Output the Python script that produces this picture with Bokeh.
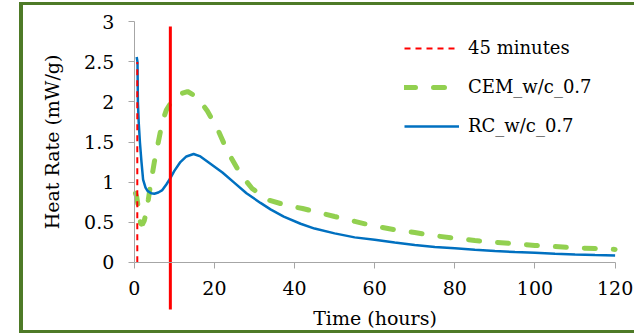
from bokeh.plotting import figure
from bokeh.models import Range1d, FixedTicker, Legend, LegendItem
from bokeh.embed import file_html
from bokeh.resources import INLINE

# ---- data ----
time_rc = [0.6, 0.8, 0.9, 1.1, 1.4, 1.8, 2.2, 2.8, 3.3, 4.2, 5.0, 6.0, 7.0, 8.0, 9.0,
           10.0, 11.5, 13.0, 14.8, 16.5, 19.0, 22.0, 25.0, 28.0, 31.5, 34.0, 37.3,
           41.5, 45.0, 50.0, 55.0, 60.0, 65.0, 70.0, 75.0, 80.0, 85.0, 90.0, 95.0,
           100.0, 105.0, 110.0, 115.0, 120.0]
rate_rc = [2.56, 2.5, 2.0, 1.75, 1.5, 1.25, 1.03, 0.93, 0.89, 0.86, 0.855, 0.87, 0.9,
           0.97, 1.05, 1.14, 1.25, 1.32, 1.35, 1.32, 1.23, 1.12, 0.99, 0.86, 0.74,
           0.66, 0.57, 0.48, 0.42, 0.36, 0.31, 0.28, 0.245, 0.215, 0.19, 0.173,
           0.155, 0.14, 0.127, 0.117, 0.105, 0.097, 0.09, 0.084]

time_cem = [0.3, 0.6, 0.9, 1.2, 1.6, 2.0, 2.5, 3.0, 3.5, 4.0, 4.5, 5.0, 6.0, 7.0, 8.0,
            9.5, 11.5, 13.3, 15.7, 18.2, 20.7, 23.2, 26.5, 29.4, 33.2, 38.0, 42.0,
            46.0, 50.0, 55.0, 60.0, 65.0, 70.0, 75.0, 80.0, 85.0, 90.0, 95.0, 100.0,
            105.0, 110.0, 115.0, 120.0]
rate_cem = [0.86, 0.82, 0.72, 0.58, 0.48, 0.47, 0.52, 0.63, 0.78, 0.95, 1.1, 1.25,
            1.5, 1.75, 1.9, 2.02, 2.1, 2.13, 2.06, 1.89, 1.67, 1.39, 1.1, 0.92, 0.78,
            0.71, 0.67, 0.62, 0.57, 0.51, 0.45, 0.405, 0.37, 0.33, 0.3, 0.27, 0.25,
            0.23, 0.21, 0.195, 0.18, 0.17, 0.16]

marker_45_time = [0.75, 0.75]
marker_45_rate = [0.0, 2.5]
marker_9h_time = [9.0, 9.0]
marker_9h_rate = [-0.59, 2.94]

x_ticks = [0, 20, 40, 60, 80, 100, 120]
y_ticks = [0, 0.5, 1, 1.5, 2, 2.5, 3]
y_tick_labels = ["0", "0.5", "1", "1.5", "2", "2.5", "3"]

legend_labels = ["45 minutes", "CEM_w/c_0.7", "RC_w/c_0.7"]
x_title = "Time (hours)"
y_title = "Heat Rate (mW/g)"

FONT = "DejaVu Serif"
AXIS_GREY = "#A6A6A6"
FRAME_GREEN = "#4E7A27"

# The plot frame covers the whole canvas; the axes sit at x=0 and y=0 inside it.
p = figure(width=634, height=334, output_backend="svg", toolbar_location=None,
           x_range=Range1d(-33.39, 124.84), y_range=Range1d(-0.902, 3.266),
           min_border=0)
# green box around the chart
p.styles = {"box-shadow": (
    "inset 19px 0 0 0 white, inset 0 2px 0 0 white, inset 0 -1px 0 0 white, "
    f"inset 23px 0 0 0 {FRAME_GREEN}, inset 0 5px 0 0 {FRAME_GREEN}, "
    f"inset 0 -4px 0 0 {FRAME_GREEN}")}
p.xgrid.visible = False
p.ygrid.visible = False
p.outline_line_color = None
p.background_fill_color = None
p.border_fill_color = None

r_cem = p.line(time_cem, rate_cem, line_color="#92D050", line_width=5,
               line_dash="11 18", line_cap="round")
r_rc = p.line(time_rc, rate_rc, line_color="#0070C0", line_width=2.5)
p.line(marker_9h_time, marker_9h_rate, line_color="#FF0000", line_width=3)
r_45 = p.line(marker_45_time, marker_45_rate, line_color="#FF0000", line_width=2,
              line_dash="6 5")

# x axis
xa = p.xaxis[0]
xa.fixed_location = 0
xa.bounds = (0, 120)
xa.ticker = FixedTicker(ticks=x_ticks)
xa.axis_label = x_title
xa.axis_line_color = AXIS_GREY
xa.major_tick_line_color = AXIS_GREY
xa.major_tick_in = 0
xa.major_tick_out = 6
xa.minor_tick_line_color = None
xa.major_label_standoff = 13
xa.axis_label_standoff = 8
xa.major_label_text_font = FONT
xa.major_label_text_font_size = "19px"
xa.major_label_text_color = "black"
xa.axis_label_text_font = FONT
xa.axis_label_text_font_size = "19px"
xa.axis_label_text_font_style = "normal"
xa.axis_label_text_color = "black"

# y axis
ya = p.yaxis[0]
ya.fixed_location = 0
ya.bounds = (0, 3)
ya.ticker = FixedTicker(ticks=y_ticks)
ya.major_label_overrides = {t: s for t, s in zip(y_ticks, y_tick_labels)}
ya.axis_label = y_title
ya.axis_line_color = AXIS_GREY
ya.major_tick_line_color = AXIS_GREY
ya.major_tick_in = 0
ya.major_tick_out = 6
ya.minor_tick_line_color = None
ya.major_label_standoff = 14
ya.axis_label_standoff = 18
ya.major_label_text_font = FONT
ya.major_label_text_font_size = "19px"
ya.major_label_text_color = "black"
ya.axis_label_text_font = FONT
ya.axis_label_text_font_size = "19px"
ya.axis_label_text_font_style = "normal"
ya.axis_label_text_color = "black"

legend = Legend(items=[LegendItem(label=legend_labels[0], renderers=[r_45]),
                       LegendItem(label=legend_labels[1], renderers=[r_cem]),
                       LegendItem(label=legend_labels[2], renderers=[r_rc])],
                location=(404, 198), border_line_color=None,
                background_fill_alpha=0, padding=0, margin=0, spacing=18,
                glyph_width=55, glyph_height=20, label_height=20,
                label_standoff=9, label_text_font=FONT,
                label_text_font_size="18px", label_text_color="black")
p.add_layout(legend)

open("out.html", "w").write(file_html(p, INLINE))
